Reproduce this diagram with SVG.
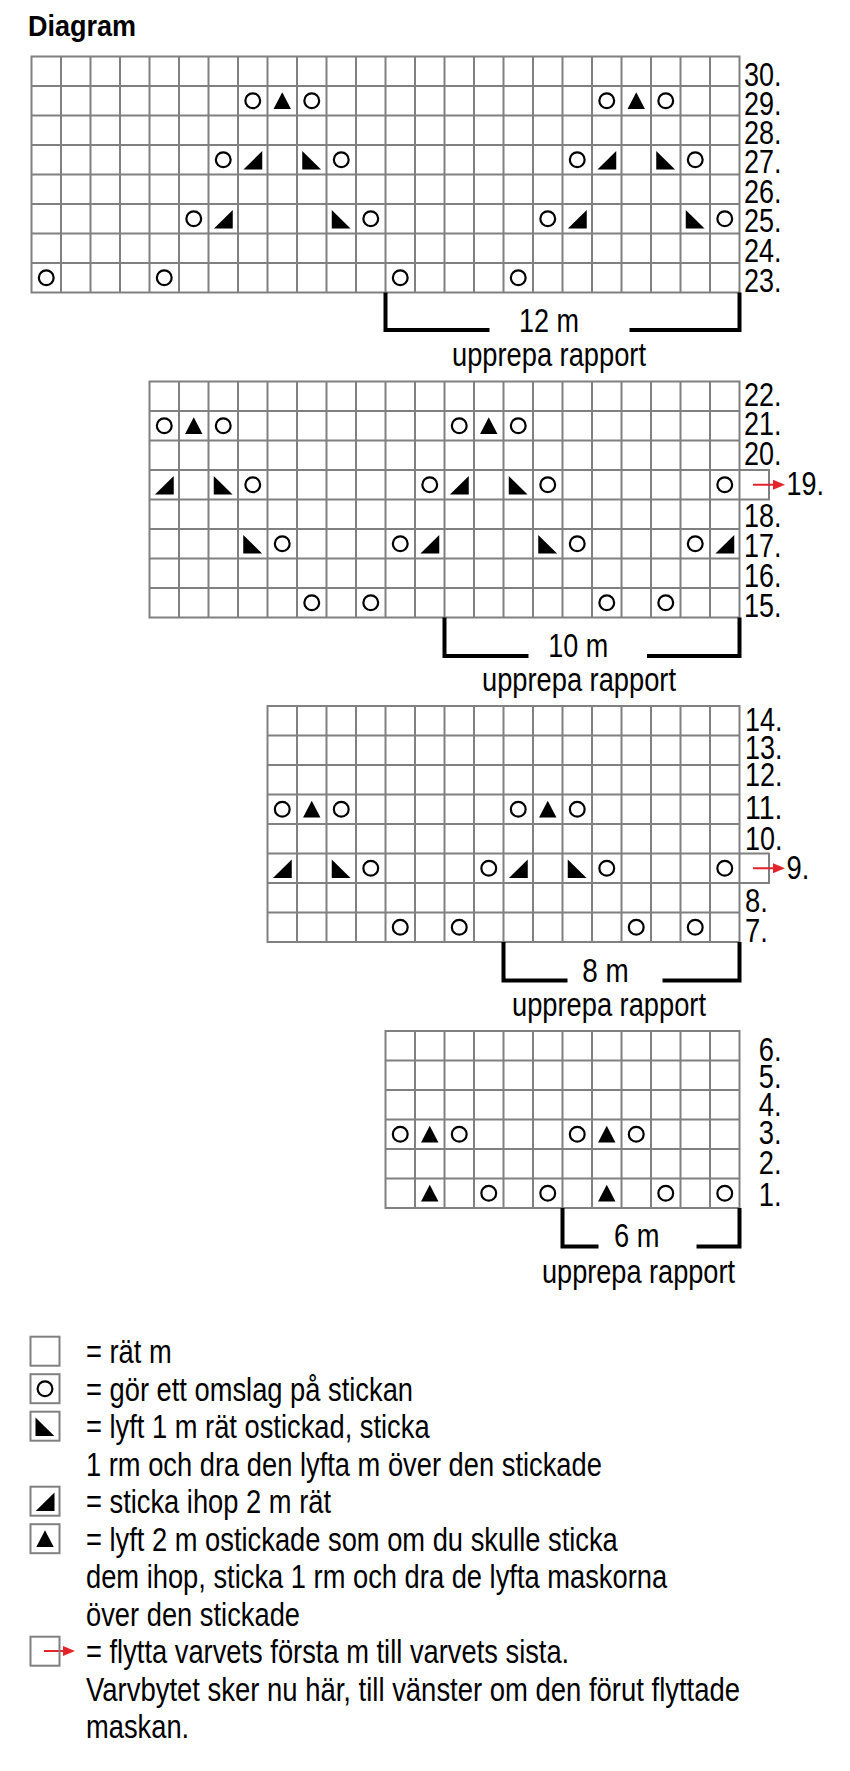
<svg xmlns="http://www.w3.org/2000/svg" xmlns:xlink="http://www.w3.org/1999/xlink" width="850" height="1771" viewBox="0 0 850 1771">
<style>
.g{fill:none;stroke:#808080;stroke-width:2}
.t{font-family:"Liberation Sans Narrow","Liberation Sans",Arial,sans-serif;font-size:33px;fill:#000}
.h{font-family:"Liberation Sans",Arial,sans-serif;font-size:29px;font-weight:bold;fill:#000}
.br{fill:none;stroke:#000;stroke-width:4}
.ar{fill:none;stroke:#e3242b;stroke-width:2;marker-end:url(#ah)}
.o{fill:none;stroke:#000;stroke-width:2.2}
.f{fill:#000}
</style>
<defs>
<marker id="ah" markerUnits="userSpaceOnUse" markerWidth="12" markerHeight="10" refX="0" refY="5" orient="auto"><path d="M0,0L12,5L0,10z" fill="#e3242b"/></marker>
<circle id="o" class="o" r="7.4"/>
<polygon id="t3" class="f" points="0,-8.5 8.7,8.3 -8.7,8.3"/>
<polygon id="k2" class="f" points="-9.3,9.8 9.5,9.8 9.5,-8.8"/>
<polygon id="sk" class="f" points="-9.5,-8.8 -9.5,9.8 9.3,9.8"/>
</defs>
<rect width="850" height="1771" fill="#fff"/>
<text class="h" x="28" y="36" textLength="108" lengthAdjust="spacingAndGlyphs">Diagram</text>

<g id="chart1" transform="translate(31.5,56.5)">
<path class="g" d="M0 0H708V236H0Z M29.5 0V236M59 0V236M88.5 0V236M118 0V236M147.5 0V236M177 0V236M206.5 0V236M236 0V236M265.5 0V236M295 0V236M324.5 0V236M354 0V236M383.5 0V236M413 0V236M442.5 0V236M472 0V236M501.5 0V236M531 0V236M560.5 0V236M590 0V236M619.5 0V236M649 0V236M678.5 0V236 M0 29.5H708M0 59H708M0 88.5H708M0 118H708M0 147.5H708M0 177H708M0 206.5H708"/>
<use href="#o" x="221.25" y="44.25"/><use href="#t3" x="250.75" y="44.25"/><use href="#o" x="280.25" y="44.25"/>
<use href="#o" x="575.25" y="44.25"/><use href="#t3" x="604.75" y="44.25"/><use href="#o" x="634.25" y="44.25"/>
<use href="#o" x="191.75" y="103.25"/><use href="#k2" x="221.25" y="103.25"/><use href="#sk" x="280.25" y="103.25"/><use href="#o" x="309.75" y="103.25"/>
<use href="#o" x="545.75" y="103.25"/><use href="#k2" x="575.25" y="103.25"/><use href="#sk" x="634.25" y="103.25"/><use href="#o" x="663.75" y="103.25"/>
<use href="#o" x="162.25" y="162.25"/><use href="#k2" x="191.75" y="162.25"/><use href="#sk" x="309.75" y="162.25"/><use href="#o" x="339.25" y="162.25"/>
<use href="#o" x="516.25" y="162.25"/><use href="#k2" x="545.75" y="162.25"/><use href="#sk" x="663.75" y="162.25"/><use href="#o" x="693.25" y="162.25"/>
<use href="#o" x="14.75" y="221.25"/><use href="#o" x="132.75" y="221.25"/><use href="#o" x="368.75" y="221.25"/><use href="#o" x="486.75" y="221.25"/>
</g>
<g id="labels1">
<text class="t" x="744" y="86" textLength="37.5" lengthAdjust="spacingAndGlyphs">30.</text>
<text class="t" x="744" y="115" textLength="37.5" lengthAdjust="spacingAndGlyphs">29.</text>
<text class="t" x="744" y="144.3" textLength="37.5" lengthAdjust="spacingAndGlyphs">28.</text>
<text class="t" x="744" y="173.3" textLength="37.5" lengthAdjust="spacingAndGlyphs">27.</text>
<text class="t" x="744" y="203" textLength="37.5" lengthAdjust="spacingAndGlyphs">26.</text>
<text class="t" x="744" y="232" textLength="37.5" lengthAdjust="spacingAndGlyphs">25.</text>
<text class="t" x="744" y="261.7" textLength="37.5" lengthAdjust="spacingAndGlyphs">24.</text>
<text class="t" x="744" y="291.7" textLength="37.5" lengthAdjust="spacingAndGlyphs">23.</text>
</g>
<g id="repeat1">
<path class="br" d="M385.5 292.5V330H489.5M629.5 330H739.5V292.5"/>
<text class="t" x="519" y="331.5" textLength="60" lengthAdjust="spacingAndGlyphs">12 m</text>
<text class="t" x="452" y="366" textLength="194" lengthAdjust="spacingAndGlyphs">upprepa rapport</text>
</g>

<g id="chart2" transform="translate(149.5,381.5)">
<path class="g" d="M0 0H590V236H0Z M29.5 0V236M59 0V236M88.5 0V236M118 0V236M147.5 0V236M177 0V236M206.5 0V236M236 0V236M265.5 0V236M295 0V236M324.5 0V236M354 0V236M383.5 0V236M413 0V236M442.5 0V236M472 0V236M501.5 0V236M531 0V236M560.5 0V236 M0 29.5H590M0 59H590M0 88.5H590M0 118H590M0 147.5H590M0 177H590M0 206.5H590 M590 88.5H619.5V118H590"/>
<use href="#o" x="14.75" y="44.25"/><use href="#t3" x="44.25" y="44.25"/><use href="#o" x="73.75" y="44.25"/>
<use href="#o" x="309.75" y="44.25"/><use href="#t3" x="339.25" y="44.25"/><use href="#o" x="368.75" y="44.25"/>
<use href="#k2" x="14.75" y="103.25"/><use href="#sk" x="73.75" y="103.25"/><use href="#o" x="103.25" y="103.25"/><use href="#o" x="280.25" y="103.25"/>
<use href="#k2" x="309.75" y="103.25"/><use href="#sk" x="368.75" y="103.25"/><use href="#o" x="398.25" y="103.25"/><use href="#o" x="575.25" y="103.25"/>
<use href="#sk" x="103.25" y="162.25"/><use href="#o" x="132.75" y="162.25"/><use href="#o" x="250.75" y="162.25"/><use href="#k2" x="280.25" y="162.25"/>
<use href="#sk" x="398.25" y="162.25"/><use href="#o" x="427.75" y="162.25"/><use href="#o" x="545.75" y="162.25"/><use href="#k2" x="575.25" y="162.25"/>
<use href="#o" x="162.25" y="221.25"/><use href="#o" x="221.25" y="221.25"/><use href="#o" x="457.25" y="221.25"/><use href="#o" x="516.25" y="221.25"/>
</g>
<g id="labels2">
<text class="t" x="744" y="406" textLength="37.5" lengthAdjust="spacingAndGlyphs">22.</text>
<text class="t" x="744" y="435" textLength="37.5" lengthAdjust="spacingAndGlyphs">21.</text>
<text class="t" x="744" y="465" textLength="37.5" lengthAdjust="spacingAndGlyphs">20.</text>
<text class="t" x="786.5" y="495" textLength="37.5" lengthAdjust="spacingAndGlyphs">19.</text>
<text class="t" x="744" y="526.7" textLength="37.5" lengthAdjust="spacingAndGlyphs">18.</text>
<text class="t" x="744" y="556.7" textLength="37.5" lengthAdjust="spacingAndGlyphs">17.</text>
<text class="t" x="744" y="586.7" textLength="37.5" lengthAdjust="spacingAndGlyphs">16.</text>
<text class="t" x="744" y="616.7" textLength="37.5" lengthAdjust="spacingAndGlyphs">15.</text>
</g>
<g id="repeat2">
<path class="br" d="M444.5 617.5V656H528.5M647 656H739.5V617.5"/>
<text class="t" x="548.3" y="656.7" textLength="60" lengthAdjust="spacingAndGlyphs">10 m</text>
<text class="t" x="482" y="691" textLength="194" lengthAdjust="spacingAndGlyphs">upprepa rapport</text>
</g>

<g id="chart3" transform="translate(267.5,706)">
<path class="g" d="M0 0H472V236H0Z M29.5 0V236M59 0V236M88.5 0V236M118 0V236M147.5 0V236M177 0V236M206.5 0V236M236 0V236M265.5 0V236M295 0V236M324.5 0V236M354 0V236M383.5 0V236M413 0V236M442.5 0V236 M0 29.5H472M0 59H472M0 88.5H472M0 118H472M0 147.5H472M0 177H472M0 206.5H472 M472 147.5H501.5V177H472"/>
<use href="#o" x="14.75" y="103.25"/><use href="#t3" x="44.25" y="103.25"/><use href="#o" x="73.75" y="103.25"/>
<use href="#o" x="250.75" y="103.25"/><use href="#t3" x="280.25" y="103.25"/><use href="#o" x="309.75" y="103.25"/>
<use href="#k2" x="14.75" y="162.25"/><use href="#sk" x="73.75" y="162.25"/><use href="#o" x="103.25" y="162.25"/><use href="#o" x="221.25" y="162.25"/>
<use href="#k2" x="250.75" y="162.25"/><use href="#sk" x="309.75" y="162.25"/><use href="#o" x="339.25" y="162.25"/><use href="#o" x="457.25" y="162.25"/>
<use href="#o" x="132.75" y="221.25"/><use href="#o" x="191.75" y="221.25"/><use href="#o" x="368.75" y="221.25"/><use href="#o" x="427.75" y="221.25"/>
</g>
<g id="labels3">
<text class="t" x="745" y="731" textLength="37.5" lengthAdjust="spacingAndGlyphs">14.</text>
<text class="t" x="745" y="759" textLength="37.5" lengthAdjust="spacingAndGlyphs">13.</text>
<text class="t" x="745" y="786" textLength="37.5" lengthAdjust="spacingAndGlyphs">12.</text>
<text class="t" x="745" y="819" textLength="37.5" lengthAdjust="spacingAndGlyphs">11.</text>
<text class="t" x="745" y="850" textLength="37.5" lengthAdjust="spacingAndGlyphs">10.</text>
<text class="t" x="786.5" y="879" textLength="22.8" lengthAdjust="spacingAndGlyphs">9.</text>
<text class="t" x="745" y="912" textLength="22.8" lengthAdjust="spacingAndGlyphs">8.</text>
<text class="t" x="745" y="942" textLength="22.8" lengthAdjust="spacingAndGlyphs">7.</text>
</g>
<g id="repeat3">
<path class="br" d="M503.5 942V980.5H567.5M662.5 980.5H739.5V942"/>
<text class="t" x="582.3" y="981.5" textLength="46.5" lengthAdjust="spacingAndGlyphs">8 m</text>
<text class="t" x="512" y="1016" textLength="194" lengthAdjust="spacingAndGlyphs">upprepa rapport</text>
</g>

<g id="chart4" transform="translate(385.5,1031)">
<path class="g" d="M0 0H354V177H0Z M29.5 0V177M59 0V177M88.5 0V177M118 0V177M147.5 0V177M177 0V177M206.5 0V177M236 0V177M265.5 0V177M295 0V177M324.5 0V177 M0 29.5H354M0 59H354M0 88.5H354M0 118H354M0 147.5H354"/>
<use href="#o" x="14.75" y="103.25"/><use href="#t3" x="44.25" y="103.25"/><use href="#o" x="73.75" y="103.25"/>
<use href="#o" x="191.75" y="103.25"/><use href="#t3" x="221.25" y="103.25"/><use href="#o" x="250.75" y="103.25"/>
<use href="#t3" x="44.25" y="162.25"/><use href="#o" x="103.25" y="162.25"/><use href="#o" x="162.25" y="162.25"/>
<use href="#t3" x="221.25" y="162.25"/><use href="#o" x="280.25" y="162.25"/><use href="#o" x="339.25" y="162.25"/>
</g>
<g id="labels4">
<text class="t" x="758.7" y="1061" textLength="22.8" lengthAdjust="spacingAndGlyphs">6.</text>
<text class="t" x="758.7" y="1088" textLength="22.8" lengthAdjust="spacingAndGlyphs">5.</text>
<text class="t" x="758.7" y="1116" textLength="22.8" lengthAdjust="spacingAndGlyphs">4.</text>
<text class="t" x="758.7" y="1144" textLength="22.8" lengthAdjust="spacingAndGlyphs">3.</text>
<text class="t" x="758.7" y="1174" textLength="22.8" lengthAdjust="spacingAndGlyphs">2.</text>
<text class="t" x="758.7" y="1206" textLength="22.8" lengthAdjust="spacingAndGlyphs">1.</text>
</g>
<g id="repeat4">
<path class="br" d="M562.5 1208V1246.5H598.5M696.5 1246.5H739.5V1208"/>
<text class="t" x="614" y="1246.5" textLength="45.5" lengthAdjust="spacingAndGlyphs">6 m</text>
<text class="t" x="542" y="1283" textLength="193" lengthAdjust="spacingAndGlyphs">upprepa rapport</text>
</g>

<g id="arrows">
<path class="ar" d="M753 484.75H773"/>
<path class="ar" d="M753 868.25H773"/>
<path class="ar" d="M44 1651H63"/>
</g>

<g id="legend">
<rect class="g" x="30.5" y="1336.7" width="29" height="29"/>
<rect class="g" x="30.5" y="1374.2" width="29" height="29"/>
<use href="#o" x="45" y="1388.7"/>
<rect class="g" x="30.5" y="1411.7" width="29" height="29"/>
<use href="#sk" x="45" y="1426.2"/>
<rect class="g" x="30.5" y="1486.7" width="29" height="29"/>
<use href="#k2" x="45" y="1501.2"/>
<rect class="g" x="30.5" y="1524.2" width="29" height="29"/>
<use href="#t3" x="45" y="1538.7"/>
<rect class="g" x="30.5" y="1636.7" width="29" height="29"/>
<text class="t" x="86" y="1363.3" textLength="85.7" lengthAdjust="spacingAndGlyphs">= rät m</text>
<text class="t" x="86" y="1400.8" textLength="327" lengthAdjust="spacingAndGlyphs">= gör ett omslag på stickan</text>
<text class="t" x="86" y="1438.3" textLength="343.6" lengthAdjust="spacingAndGlyphs">= lyft 1 m rät ostickad, sticka</text>
<text class="t" x="86" y="1475.8" textLength="515.9" lengthAdjust="spacingAndGlyphs">1 rm och dra den lyfta m över den stickade</text>
<text class="t" x="86" y="1513.3" textLength="245" lengthAdjust="spacingAndGlyphs">= sticka ihop 2 m rät</text>
<text class="t" x="86" y="1550.8" textLength="531.8" lengthAdjust="spacingAndGlyphs">= lyft 2 m ostickade som om du skulle sticka</text>
<text class="t" x="86" y="1588.3" textLength="581.1" lengthAdjust="spacingAndGlyphs">dem ihop, sticka 1 rm och dra de lyfta maskorna</text>
<text class="t" x="86" y="1625.8" textLength="214" lengthAdjust="spacingAndGlyphs">över den stickade</text>
<text class="t" x="86" y="1663.3" textLength="483.2" lengthAdjust="spacingAndGlyphs">= flytta varvets första m till varvets sista.</text>
<text class="t" x="86" y="1700.8" textLength="654" lengthAdjust="spacingAndGlyphs">Varvbytet sker nu här, till vänster om den förut flyttade</text>
<text class="t" x="86" y="1738.3" textLength="103.2" lengthAdjust="spacingAndGlyphs">maskan.</text>
</g>
</svg>
